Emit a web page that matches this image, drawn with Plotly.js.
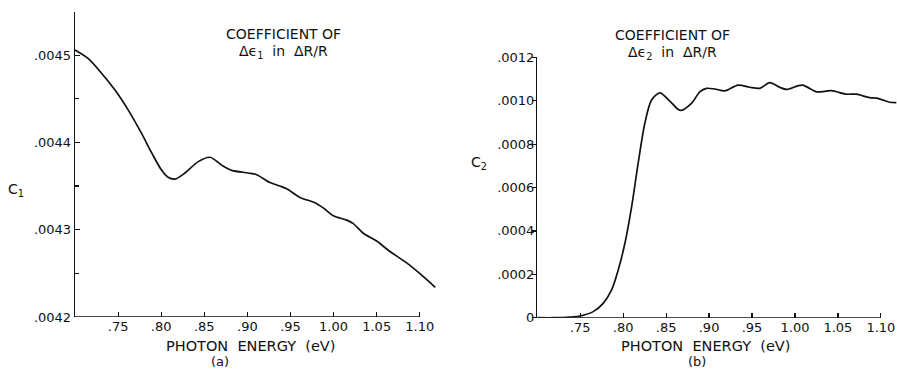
<!DOCTYPE html>
<html>
<head>
<meta charset="utf-8">
<script src="https://cdn.plot.ly/plotly-3.0.1.min.js"></script>
<style>
  html, body { margin: 0; padding: 0; background: #fff; }
  #chart { width: 897px; height: 369px; }
</style>
</head>
<body>
<div id="chart"></div>
<script>
// Photon energy (eV) and coefficient of Δε1 in ΔR/R — panel (a)
const energyA = [0.700, 0.7155, 0.731, 0.7464, 0.7618, 0.7774, 0.789, 0.8006, 0.808, 0.816,
  0.8276, 0.843, 0.8566, 0.8702, 0.8818, 0.901, 0.9108, 0.9262, 0.9378, 0.9456,
  0.961, 0.9784, 0.988, 0.9997, 1.0152, 1.0229, 1.0345, 1.050, 1.0654, 1.0848,
  1.1022, 1.118];
const c1Values = [0.004506, 0.004496, 0.004479, 0.004460, 0.004437, 0.004410, 0.004388, 0.004368, 0.004360, 0.004358,
  0.004365, 0.004378, 0.004383, 0.004374, 0.004368, 0.004365, 0.004363, 0.004354, 0.004350, 0.004347,
  0.004337, 0.004331, 0.004325, 0.004316, 0.004311, 0.004307, 0.004296, 0.004287, 0.004275, 0.004262,
  0.004248, 0.004234];

// Photon energy (eV) and coefficient of Δε2 in ΔR/R — panel (b)
const energyB = [0.700, 0.720, 0.738, 0.7497, 0.7651, 0.7767, 0.7865, 0.7942, 0.802, 0.8098,
  0.8174, 0.8252, 0.833, 0.8427, 0.8543, 0.8665, 0.8795, 0.8892, 0.897, 0.9066,
  0.9183, 0.9337, 0.9473, 0.959, 0.9706, 0.9822, 0.990, 1.0086, 1.0249, 1.0423,
  1.0598, 1.0714, 1.0869, 1.0965, 1.1101, 1.118];
const c2Values = [0, 0, 0.000003, 0.000008, 0.000028, 0.000066, 0.000128, 0.00022, 0.000343, 0.000511,
  0.000711, 0.000896, 0.001003, 0.001036, 0.000998, 0.000955, 0.000988, 0.001041, 0.001057, 0.001054,
  0.001045, 0.001072, 0.001062, 0.001057, 0.001083, 0.001062, 0.001052, 0.001072, 0.001041, 0.001046,
  0.00103, 0.00103, 0.001014, 0.001011, 0.000993, 0.000991];

// Tick positions and labels
const energyTicks = [0.75, 0.80, 0.85, 0.90, 0.95, 1.00, 1.05, 1.10];
const energyTickLabels = ['.75', '.80', '.85', '.90', '.95', '1.00', '1.05', '1.10'];
const c1Ticks = [0.0042, 0.0043, 0.0044, 0.0045];
const c1TickLabels = ['.0042', '.0043', '.0044', '.0045'];
const c2Ticks = [0, 0.0002, 0.0004, 0.0006, 0.0008, 0.0010, 0.0012];
const c2TickLabels = ['0', '.0002', '.0004', '.0006', '.0008', '.0010', '.0012'];

const FONT = 'DejaVu Sans, Liberation Sans, sans-serif';
const INK = '#111';
const W = 897, H = 369;
const px = v => v / W;          // horizontal pixel -> paper
const py = v => 1 - v / H;      // vertical pixel -> paper

const curveLine = { color: INK, width: 1.7, shape: 'spline', smoothing: 0.8 };

const traces = [
  { x: energyA, y: c1Values, xaxis: 'x', yaxis: 'y', type: 'scatter', mode: 'lines',
    line: curveLine, hoverinfo: 'skip' },
  { x: energyB, y: c2Values, xaxis: 'x2', yaxis: 'y2', type: 'scatter', mode: 'lines',
    line: curveLine, hoverinfo: 'skip' }
];

const tickFont = { family: FONT, size: 13, color: INK };
const xCommon = {
  tickmode: 'array', tickvals: energyTicks, ticktext: energyTickLabels,
  ticks: 'inside', ticklen: 5, tickwidth: 1.2, tickcolor: INK,
  showline: false, showgrid: false, zeroline: false, tickfont: tickFont,
  fixedrange: true
};

function annot(text, x, y, size) {
  return { text: text, x: px(x), y: py(y), xref: 'paper', yref: 'paper',
    xanchor: 'center', yanchor: 'middle', showarrow: false,
    font: { family: FONT, size: size, color: INK } };
}

const layout = {
  width: W, height: H,
  margin: { l: 0, r: 0, t: 0, b: 0 },
  paper_bgcolor: '#fff', plot_bgcolor: 'rgba(0,0,0,0)',
  showlegend: false,
  xaxis: Object.assign({}, xCommon, {
    domain: [px(75), px(437)], range: [0.70, 1.12], anchor: 'y'
  }),
  yaxis: {
    domain: [py(317), py(11.5)], range: [0.0042, 0.00455], anchor: 'x',
    tickmode: 'array', tickvals: c1Ticks, ticktext: c1TickLabels,
    ticks: 'inside', ticklen: 5, tickwidth: 1.2, tickcolor: INK,
    minor: { dtick: 0.00005, tick0: 0.0042, ticks: 'inside', ticklen: 4, tickwidth: 1.2, tickcolor: INK },
    showline: true, linecolor: INK, linewidth: 1.3,
    showgrid: false, zeroline: false, tickfont: tickFont, fixedrange: true
  },
  xaxis2: Object.assign({}, xCommon, {
    domain: [px(537.3), 1], range: [0.70, 1.1188], anchor: 'y2'
  }),
  yaxis2: {
    domain: [py(317.7), py(57.3)], range: [0, 0.0012], anchor: 'x2',
    tickmode: 'array', tickvals: c2Ticks, ticktext: c2TickLabels,
    ticks: 'outside', ticklen: 4, tickwidth: 1.2, tickcolor: INK,
    ticklabelstandoff: -5,
    showline: true, linecolor: INK, linewidth: 1.3,
    showgrid: false, zeroline: false, tickfont: tickFont, fixedrange: true
  },
  shapes: [
    // energy axes run from the left frame to the last labelled tick
    { type: 'line', xref: 'x', yref: 'y', x0: 0.70, x1: 1.10, y0: 0.0042, y1: 0.0042,
      line: { color: INK, width: 1.3 } },
    { type: 'line', xref: 'x2', yref: 'y2', x0: 0.70, x1: 1.10, y0: 0, y1: 0,
      line: { color: INK, width: 1.3 } }
  ],
  annotations: [
    annot('COEFFICIENT OF', 283, 34, 14),
    annot('Δϵ<sub>1</sub>  in  ΔR/R', 283, 52, 14),
    annot('COEFFICIENT OF', 672.5, 35, 14),
    annot('Δϵ<sub>2</sub>  in  ΔR/R', 672, 52.7, 14),
    annot('C<sub>1</sub>', 16, 190, 14),
    annot('C<sub>2</sub>', 479.3, 163.3, 14),
    annot('PHOTON  ENERGY  (eV)', 250, 346, 14.5),
    annot('PHOTON  ENERGY  (eV)', 705.8, 345.5, 14.5),
    annot('(a)', 220, 361.5, 13),
    annot('(b)', 696.7, 361, 13)
  ]
};

Plotly.newPlot('chart', traces, layout, { staticPlot: true, displayModeBar: false });
</script>
</body>
</html>
